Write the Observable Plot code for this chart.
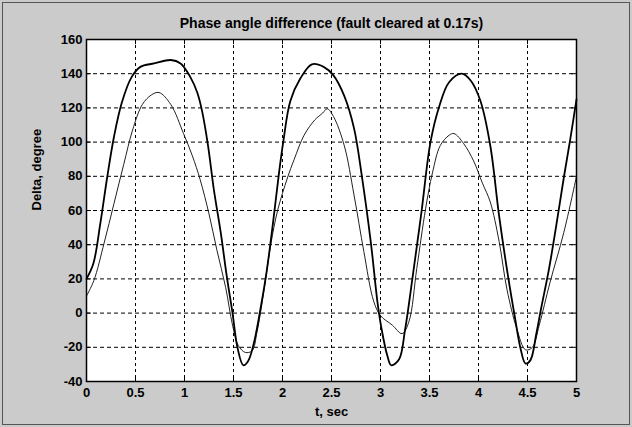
<!DOCTYPE html>
<html>
<head>
<meta charset="utf-8">
<script src="https://cdn.jsdelivr.net/npm/d3@7"></script>
<script src="https://cdn.jsdelivr.net/npm/@observablehq/plot@0.6"></script>
<style>
  html, body { margin: 0; padding: 0; background: #cbcbcb; }
  #wrap { position: relative; width: 632px; height: 427px; overflow: hidden;
          background: #cbcbcb; }
  #wrap svg { position: absolute; left: 0; top: 0; }
  #border { position: absolute; left: 2px; top: 2px; width: 626px; height: 421px;
            border: 1px solid #555; pointer-events: none; }
</style>
</head>
<body>
<div id="wrap"><div id="border"></div></div>
<script>
const titleText = "Phase angle difference (fault cleared at 0.17s)";
const xLabel = "t, sec";
const yLabel = "Delta, degree";
const xTicks = [0, 0.5, 1, 1.5, 2, 2.5, 3, 3.5, 4, 4.5, 5];
const yTicks = [-40, -20, 0, 20, 40, 60, 80, 100, 120, 140, 160];

// thick curve
const thickT = [0, 0.07, 0.14, 0.21, 0.28, 0.36, 0.46, 0.55, 0.69, 0.86, 0.96, 1.06, 1.13, 1.18, 1.24, 1.30, 1.37, 1.43, 1.49, 1.54, 1.60, 1.65, 1.71, 1.78, 1.84, 1.91, 1.96, 2.01, 2.08, 2.18, 2.30, 2.42, 2.52, 2.63, 2.73, 2.81, 2.90, 2.97, 3.01, 3.07, 3.11, 3.19, 3.25, 3.33, 3.42, 3.51, 3.60, 3.70, 3.83, 3.92, 4.02, 4.12, 4.21, 4.30, 4.37, 4.43, 4.48, 4.53, 4.59, 4.64, 4.72, 4.79, 4.87, 4.94, 5.0];
const thickV = [20, 29, 52, 79, 103, 123, 138, 144, 146, 148, 146, 138, 129, 118, 98, 72, 47, 22, 0, -20, -30.5, -28, -17, 4, 25, 56, 80, 101, 124, 137, 145.5, 144, 139, 127, 108, 80, 42, 6, -9, -25, -30.5, -27, -10, 22, 60, 100, 121, 135, 140, 136, 124, 98, 57, 22, -2, -21, -29.5, -27.5, -12, 3, 26, 50, 79, 103, 125];

// thin curve
const thinT = [0, 0.075, 0.18, 0.28, 0.38, 0.47, 0.57, 0.66, 0.74, 0.86, 0.99, 1.08, 1.16, 1.25, 1.33, 1.42, 1.49, 1.55, 1.62, 1.69, 1.74, 1.81, 1.88, 1.95, 2.05, 2.12, 2.22, 2.33, 2.41, 2.456, 2.52, 2.63, 2.73, 2.83, 2.93, 3.0, 3.12, 3.22, 3.29, 3.37, 3.46, 3.53, 3.61, 3.70, 3.75, 3.85, 3.95, 4.04, 4.12, 4.21, 4.29, 4.39, 4.48, 4.55, 4.62, 4.73, 4.87, 5.0];
const thinV = [10, 19, 41, 64, 87, 107, 122, 127.5, 129, 122, 105, 92, 78, 58, 37, 15, -7, -19, -23, -22, -11, 13, 40, 60, 79, 90, 104, 113, 117, 119.5, 115, 98, 69, 36, 7, -1.5, -7, -12, -5, 26, 61, 82, 98, 104, 105, 99, 89, 76, 65, 42, 14, -9, -21.5, -20, -7, 18, 47, 80];

const thick = thickT.map((t, i) => ({t, v: thickV[i]}));
const thin = thinT.map((t, i) => ({t, v: thinV[i]}));

const font = "'Liberation Sans', Arial, Helvetica, sans-serif";

const chart = Plot.plot({
  width: 632,
  height: 427,
  marginLeft: 86,
  marginRight: 56,
  marginTop: 39,
  marginBottom: 46,
  style: { background: "transparent", fontFamily: font, fontSize: "13px", fontWeight: "bold", color: "black" },
  x: { domain: [0, 5], ticks: xTicks },
  y: { domain: [-40, 160], ticks: yTicks },
  marks: [
    Plot.frame({ fill: "white" }),
    Plot.gridX(xTicks.slice(1, -1), { stroke: "black", strokeOpacity: 1, strokeWidth: 1, strokeDasharray: "3,3" }),
    Plot.gridY(yTicks.slice(1, -1), { stroke: "black", strokeOpacity: 1, strokeWidth: 1, strokeDasharray: "4,3" }),
    Plot.ruleX(xTicks, { x: d => d, y1: -40, y2: -37, stroke: "black" }),
    Plot.ruleX(xTicks, { x: d => d, y1: 160, y2: 157, stroke: "black" }),
    Plot.ruleY(yTicks, { y: d => d, x1: 0, x2: 0.05, stroke: "black" }),
    Plot.ruleY(yTicks, { y: d => d, x1: 4.95, x2: 5, stroke: "black" }),
    Plot.line(thin, { x: "t", y: "v", stroke: "#222", strokeWidth: 1, curve: "catmull-rom" }),
    Plot.line(thick, { x: "t", y: "v", stroke: "black", strokeWidth: 1.8, curve: "catmull-rom" }),
    Plot.frame({ stroke: "black", strokeWidth: 1.5 }),
    Plot.axisX(xTicks, { tickSize: 0, tickPadding: 6, label: null, tickFormat: d => String(d), fontSize: 13, fontWeight: "bold" }),
    Plot.axisY(yTicks, { tickSize: 0, tickPadding: 4, label: null, tickFormat: d => String(d), fontSize: 13, fontWeight: "bold" }),
    Plot.text([titleText], { frameAnchor: "top", dy: -21, fontSize: 14, fontWeight: "bold", fill: "black" }),
    Plot.text([xLabel], { frameAnchor: "bottom", dy: 34, fontSize: 13, fontWeight: "bold", fill: "black" }),
    Plot.text([yLabel], { frameAnchor: "left", dx: -50, rotate: -90, fontSize: 13, fontWeight: "bold", fill: "black" })
  ]
});
document.getElementById("wrap").appendChild(chart);
</script>
</body>
</html>
